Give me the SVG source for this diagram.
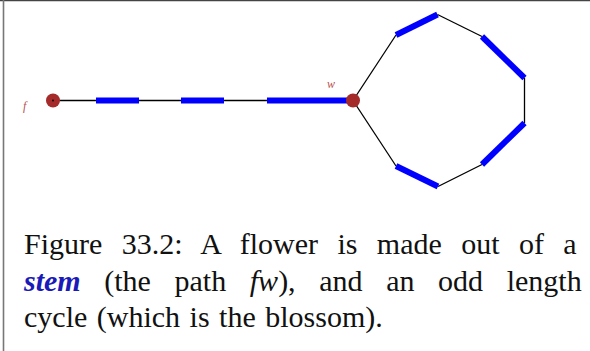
<svg xmlns="http://www.w3.org/2000/svg" width="590" height="351" viewBox="0 0 590 351">
<style>
.edge{stroke:#000;stroke-width:1.3;fill:none}
.match{stroke:#0000ff;stroke-width:6;fill:none;stroke-linecap:butt}
.node{fill:#a52a2a}
.lbl{font-family:"Liberation Serif",serif;font-style:italic;font-size:12px;fill:#b85050}
.cap{font-family:"Liberation Serif",serif;font-size:30px;fill:#111}
.stem{font-weight:bold;font-style:italic;fill:#1a1ab8}
.it{font-style:italic}
</style>
<rect width="590" height="351" fill="#fff"/>
<line x1="0" y1="0.5" x2="590" y2="0.5" stroke="#444" stroke-width="1.5"/>
<line x1="3.5" y1="0" x2="3.5" y2="351" stroke="#777" stroke-width="1.6"/>
<g id="connectors">
<line class="edge" x1="53" y1="100.5" x2="353" y2="100.5"/>
<line class="match" x1="96" y1="100.5" x2="139" y2="100.5"/>
<line class="match" x1="181" y1="100.5" x2="224" y2="100.5"/>
<line class="match" x1="267" y1="100.5" x2="348" y2="100.5"/>
<line class="edge" x1="353" y1="100.5" x2="396" y2="35"/>
<line class="match" x1="396" y1="35" x2="437.5" y2="14.5"/>
<line class="edge" x1="437.5" y1="14.5" x2="482" y2="36.5"/>
<line class="match" x1="482" y1="36.5" x2="524.5" y2="78"/>
<line class="edge" x1="524.5" y1="78" x2="524.5" y2="123"/>
<line class="match" x1="524.5" y1="123" x2="482" y2="164.5"/>
<line class="edge" x1="482" y1="164.5" x2="438" y2="186.5"/>
<line class="match" x1="438" y1="186.5" x2="396" y2="166"/>
<line class="edge" x1="396" y1="166" x2="353" y2="100.5"/>
</g>
<g id="node-f">
<circle class="node" cx="53" cy="100.5" r="7"/>
<circle cx="53" cy="100.5" r="0.9" fill="#000"/>
<text class="lbl" x="23" y="110">f</text>
</g>
<g id="node-w">
<circle class="node" cx="353" cy="100.5" r="7"/>
<text class="lbl" x="327" y="88">w</text>
</g>
<g id="caption">
<text class="cap" x="24" y="254" style="word-spacing:11.9px">Figure 33.2: A flower is made out of a</text>
<text class="cap" x="24" y="291" style="word-spacing:16.1px"><tspan class="stem">stem</tspan> (the path <tspan class="it">fw</tspan>), and an odd length</text>
<text class="cap" x="24" y="327" style="word-spacing:2px">cycle (which is the blossom).</text>
</g>
</svg>
